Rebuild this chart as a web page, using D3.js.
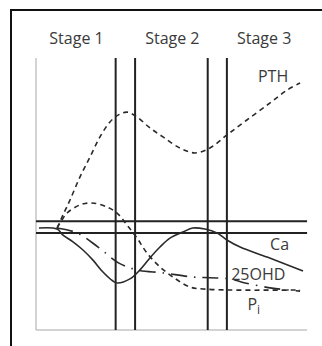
<!DOCTYPE html>
<html><head><meta charset="utf-8">
<script src="https://cdn.jsdelivr.net/npm/d3@7"></script>
<style>html,body{margin:0;padding:0;background:#fff;}svg{display:block;}</style>
</head><body>
<script>
// Stage labels and boundaries (x in arbitrary time units 0-100)
const stageLabels = ["Stage 1", "Stage 2", "Stage 3"];
const stageLabelX = [15, 50.5, 84.5];
const stageBoundaries = [29.5, 36.7, 63.6, 70.7];
// Reference (normal range) levels
const refLevels = [40, 35.7];

// Series: [time, level]
const caSeries = [[1.1,37.5],[7.8,37.1],[10,34.9],[13.7,32.4],[17.4,29.4],[21.1,25.7],[24.8,21.3],[28.5,18],[30,17.3],[34.8,18.8],[38.5,22.1],[42.2,26.5],[45.9,30.5],[49.6,33.8],[54.4,36],[58.1,37.5],[62.6,37.1],[67,35.7],[70.7,33.1],[75.6,30.5],[85.6,26.8],[98.9,21.7]];
const pthSeries = [[7.8,37.5],[10,42.3],[12.6,47.8],[16.3,56.3],[20,63.6],[23.7,71],[27.4,76.5],[30.4,79],[33.7,80.1],[37.4,78.3],[42.2,74.3],[47,71],[53.3,66.9],[58.9,65.1],[64.4,66.9],[70.7,71.7],[78.1,77.2],[86.7,83.5],[93,88.2],[97.8,90.8]];
const piSeries = [[7.8,37.5],[9.6,40.4],[11.5,43],[16.3,46],[20.7,46.7],[26.3,45.2],[30,43],[33.7,38.6],[37.4,33.8],[41.1,28.3],[45.9,23.2],[50.7,19.5],[57,15.8],[61.9,15.1],[71.9,14.7],[97.8,14.7]];
const ohdSeries = [[7.8,37.5],[15.2,35.7],[23,30.5],[30.7,24.6],[37.4,22.1],[47,21],[57.8,19.5],[64.4,19.2],[71.9,18.8],[77.4,17.3],[87.4,15.4],[97.8,14.3]];

// Series labels [text, x, y]
const seriesLabels = [["PTH",82.2,91],["Ca",86.7,29.4],["25OHD",72.3,18.4]];

const W = 322, H = 346;
const svg = d3.select("body").append("svg").attr("width", W).attr("height", H);

// outer frame
svg.append("path").attr("d", `M11,${H+2} L11,10 L${W+2},10`)
  .attr("fill","none").attr("stroke","#111").attr("stroke-width",2);

const x = d3.scaleLinear().domain([0,100]).range([36,306]);
const y = d3.scaleLinear().domain([0,100]).range([330,58]);

// axes (light grey)
svg.append("line").attr("x1",x(0)).attr("x2",x(0)).attr("y1",y(100)).attr("y2",y(0))
  .attr("stroke","#c4c4c4").attr("stroke-width",1.5);
svg.append("line").attr("x1",x(0)).attr("x2",x(100.4)).attr("y1",y(0)).attr("y2",y(0))
  .attr("stroke","#c4c4c4").attr("stroke-width",1.5);

// stage labels
svg.selectAll("text.stage").data(stageLabels).join("text")
  .attr("class","stage").attr("x",(d,i)=>x(stageLabelX[i])).attr("y",44)
  .attr("text-anchor","middle").attr("font-family","'Open Sans', sans-serif")
  .attr("font-size",16).attr("fill","#3a3a3a").text(d=>d);

// boundary lines
svg.selectAll("line.bound").data(stageBoundaries).join("line")
  .attr("class","bound").attr("x1",d=>x(d)).attr("x2",d=>x(d))
  .attr("y1",y(100)).attr("y2",y(0)).attr("stroke","#222").attr("stroke-width",2);

// reference levels
svg.selectAll("line.ref").data(refLevels).join("line")
  .attr("class","ref").attr("x1",x(0)).attr("x2",x(100.4))
  .attr("y1",d=>y(d)).attr("y2",d=>y(d)).attr("stroke","#222").attr("stroke-width",2);

const line = d3.line().x(d=>x(d[0])).y(d=>y(d[1])).curve(d3.curveCatmullRom.alpha(0.5));

function drawSeries(data, dash){
  svg.append("path").attr("d", line(data)).attr("fill","none")
    .attr("stroke","#2a2a2a").attr("stroke-width",1.6)
    .attr("stroke-dasharray", dash);
}
drawSeries(caSeries, null);
drawSeries(pthSeries, "5,4");
drawSeries(piSeries, "5,4");
drawSeries(ohdSeries, "16,7,1.5,7");

// series labels
svg.selectAll("text.slab").data(seriesLabels).join("text")
  .attr("class","slab").attr("x",d=>x(d[1])).attr("y",d=>y(d[2]))
  .attr("font-family","'Open Sans', sans-serif").attr("font-size",16)
  .attr("fill","#3a3a3a").text(d=>d[0]);

// P with subscript i
const pt = svg.append("text").attr("x",x(78.3)).attr("y",y(7.5))
  .attr("font-family","'Open Sans', sans-serif").attr("font-size",16).attr("fill","#3a3a3a");
pt.append("tspan").text("P");
pt.append("tspan").attr("dy",4).attr("font-size",12).text("i");
</script>
</body></html>
